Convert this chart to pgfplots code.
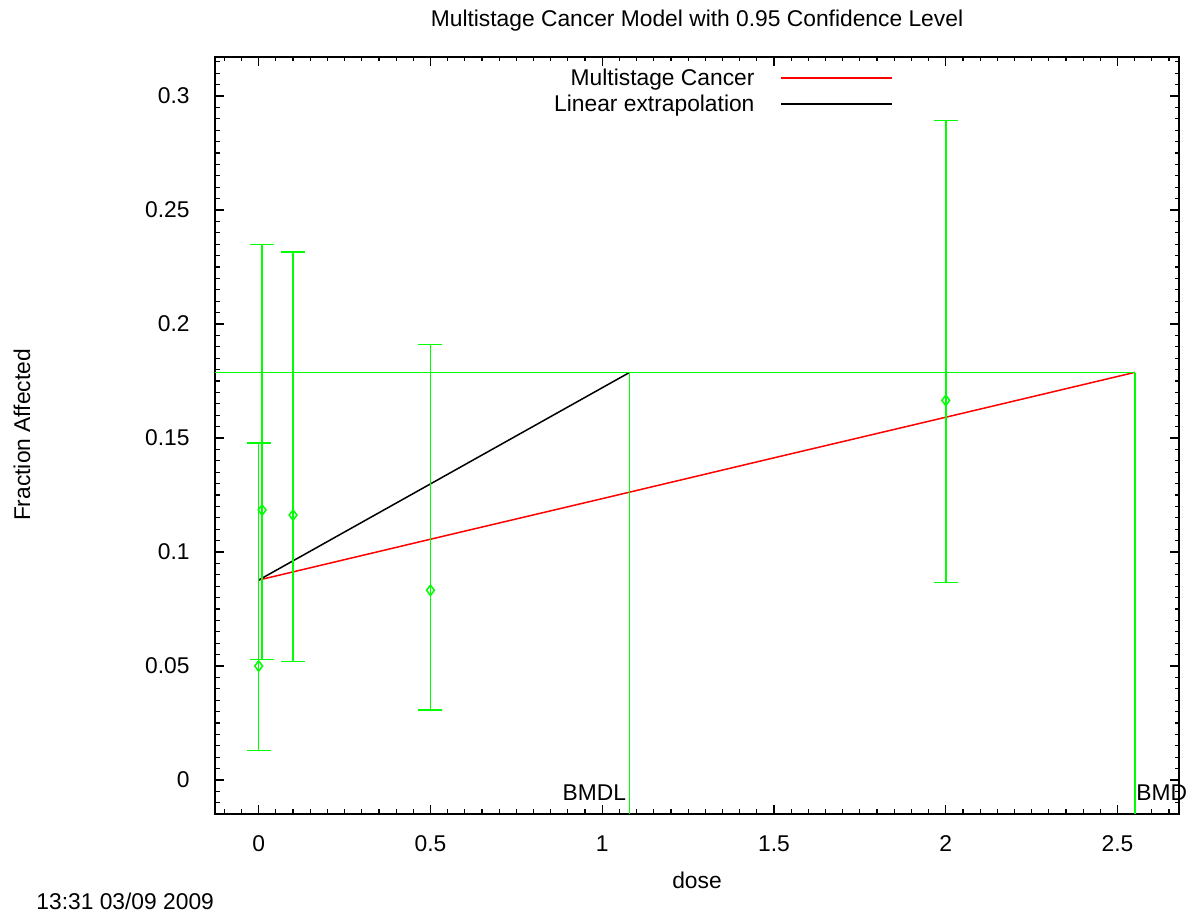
\documentclass[border=0pt]{standalone}
\usepackage{fontspec}
\setmainfont{Liberation Sans}
\usepackage{pgfplots}
\pgfplotsset{compat=1.18}
\definecolor{gpgreen}{RGB}{0,255,0}
\definecolor{gpred}{RGB}{255,0,0}
\begin{document}
\begin{tikzpicture}[font=\fontsize{11.4}{13}\selectfont]
\useasboundingbox (0,0) rectangle (593pt,456.5pt);
\begin{axis}[
 at={(107.5pt,49.5pt)}, anchor=south west,
 scale only axis, width=482pt, height=378.5pt,
 xmin=-0.1272, xmax=2.679, ymin=-0.0149, ymax=0.3171,
 clip mode=individual,
 axis line style={line width=0.8pt},
 xtick={0,0.5,1,1.5,2,2.5}, ytick={0,0.05,0.1,0.15,0.2,0.25,0.3},
 minor xtick={-0.1,-0.05,...,2.66}, minor ytick={-0.01,-0.005,...,0.316},
 tick align=inside, major tick length=4.5pt, minor tick length=2.25pt,
 every tick/.style={black, line width=0.6pt},
 scaled ticks=false,
 /pgf/number format/assume math mode=true,
 xticklabel style={inner sep=0pt, yshift=-10.75pt, /pgf/number format/fixed},
 yticklabel style={inner sep=0pt, xshift=-12.5pt, /pgf/number format/fixed, /pgf/number format/precision=2},
 legend plot pos=right,
 legend cell align=right,
 legend style={draw=none, fill=none, at={(0.7033,0.9828)}, anchor=north east, inner sep=0pt, outer sep=0pt, row sep=2.5pt, nodes={inner sep=0pt, text height=8pt, text depth=2.5pt}, /tikz/every odd column/.append style={column sep=13pt}},
 legend image code/.code={\draw[#1] (0pt,1.25pt) -- (55.5pt,1.25pt);},
]
\addplot[gpred, line width=0.75pt] coordinates {(0,0.0877) (0.5,0.1056) (1,0.1234) (1.5,0.1413) (2,0.1591) (2.551,0.1788)};
\addlegendentry{Multistage Cancer}
\addplot[black, line width=0.75pt] coordinates {(0,0.0877) (1.079,0.1787)};
\addlegendentry{Linear extrapolation}
\addplot[gpgreen, line width=0.75pt, forget plot] coordinates {(-0.1272,0.1787) (2.551,0.1787)};
\addplot[gpgreen, line width=0.75pt, forget plot] coordinates {(1.079,0.1787) (1.079,-0.0149)};
\addplot[gpgreen, line width=0.75pt, forget plot] coordinates {(2.551,0.1787) (2.551,-0.0149)};
\addplot[gpgreen, only marks, mark=diamond, mark size=2.6pt, line width=0.75pt, forget plot,
  error bars/.cd, y dir=both, y explicit,
  error bar style={gpgreen, line width=0.75pt},
  error mark options={gpgreen, rotate=90, mark size=6pt, line width=0.75pt}]
 coordinates {
 (0,0.05) += (0,0.0979) -= (0,0.0371)
 (0.01,0.1184) += (0,0.1165) -= (0,0.0655)
 (0.1,0.1162) += (0,0.1154) -= (0,0.0642)
 (0.5,0.0832) += (0,0.1077) -= (0,0.0524)
 (2,0.1665) += (0,0.1228) -= (0,0.0798)
 };
\node[anchor=base east, inner sep=0pt] at (axis cs:1.079,-0.00877) [xshift=-1.5pt] {BMDL};
\node[anchor=base west, inner sep=0pt] at (axis cs:2.551,-0.00877) [xshift=0.5pt] {BMD};
\end{axis}
\node at (348.5pt,446pt) {Multistage Cancer Model with 0.95 Confidence Level};
\node[rotate=90] at (11pt,239pt) {Fraction Affected};
\node at (348.5pt,16.5pt) {dose};
\node[anchor=west, inner sep=0pt] at (18pt,6pt) {13:31 03/09 2009};
\end{tikzpicture}
\end{document}
